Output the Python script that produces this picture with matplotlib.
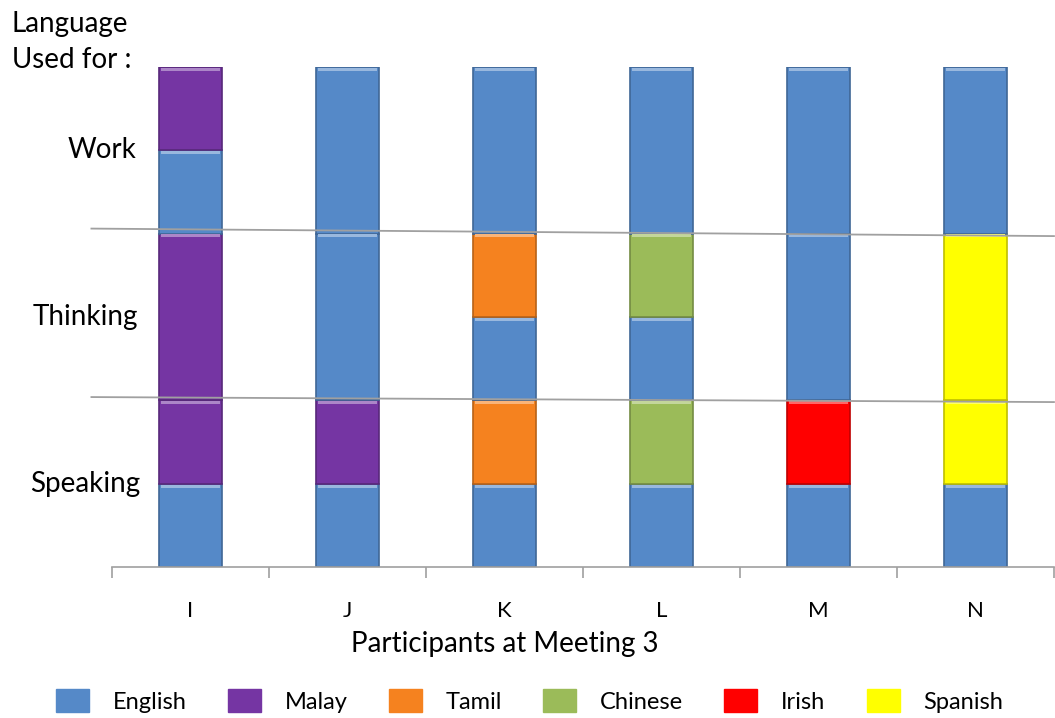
import numpy as np
import matplotlib
matplotlib.use('Agg')
import matplotlib.pyplot as plt
from matplotlib.patches import Patch
from matplotlib import colors as mcolors

plt.rcParams['font.family'] = ['Lato', 'DejaVu Sans']

participants = ['I', 'J', 'K', 'L', 'M', 'N']
languages = ['English', 'Malay', 'Tamil', 'Chinese', 'Irish', 'Spanish']
lang_colors = ['#5589C8', '#7535A3', '#F5821F', '#9BBB59', '#FF0000', '#FFFF00']
uses = ['Speaking', 'Thinking', 'Work']

# stacked segments for each participant, bottom to top: (language, height)
seg_I = [('English', 1), ('Malay', 1), ('Malay', 2), ('English', 1), ('Malay', 1)]
seg_J = [('English', 1), ('Malay', 1), ('English', 2), ('English', 2)]
seg_K = [('English', 1), ('Tamil', 1), ('English', 1), ('Tamil', 1), ('English', 2)]
seg_L = [('English', 1), ('Chinese', 1), ('English', 1), ('Chinese', 1), ('English', 2)]
seg_M = [('English', 1), ('Irish', 1), ('English', 2), ('English', 2)]
seg_N = [('English', 1), ('Spanish', 1), ('Spanish', 2), ('English', 2)]
segments = [seg_I, seg_J, seg_K, seg_L, seg_M, seg_N]

color_of = dict(zip(languages, lang_colors))

fig = plt.figure(figsize=(10.55, 7.18), dpi=100)
ax = fig.add_axes([0.106, 0.210, 0.893, 0.697])

width = 0.4
x = np.arange(len(participants))
for xi, segs in zip(x, segments):
    bottom = 0
    for lang, h in segs:
        c = color_of[lang]
        dark = tuple(v * 0.75 for v in mcolors.to_rgb(c))
        light = tuple(v + (1 - v) * 0.4 for v in mcolors.to_rgb(c))
        ax.bar(xi, h, width, bottom=bottom, color=c, edgecolor=dark, linewidth=1.2, zorder=2)
        # bevel highlight along the top of each block
        ax.bar(xi, 0.035, width * 0.94, bottom=bottom + h - 0.045, color=light, linewidth=0, zorder=3)
        bottom += h

# hand-drawn divider lines between the three uses
ax.plot([-0.63, 5.5], [4.06, 3.97], color='#a0a0a0', lw=1.3, clip_on=False, zorder=4)
ax.plot([-0.63, 5.5], [2.04, 1.98], color='#a0a0a0', lw=1.3, clip_on=False, zorder=4)

ax.set_xlim(-0.5, 5.5)
ax.set_ylim(0, 6)
for s in ['top', 'right', 'left']:
    ax.spines[s].set_visible(False)
ax.spines['bottom'].set_color('#a0a0a0')
ax.spines['bottom'].set_linewidth(1.2)

ax.set_xticks(np.arange(-0.5, 6, 1))
ax.set_xticklabels([])
ax.tick_params(axis='x', which='major', direction='out', length=8, color='#a0a0a0', width=1.2)
ax.set_xticks(x, minor=True)
ax.set_xticklabels(participants, minor=True, fontsize=16)
ax.tick_params(axis='x', which='minor', length=0, pad=24)
ax.set_yticks([])
ax.set_xlabel('Participants at Meeting 3', fontsize=20)
ax.xaxis.set_label_coords(0.417, -0.127)

for y, label, xpos in zip([1, 3, 5], uses, [-0.67, -0.67, -0.565]):
    ax.text(xpos, y, label, fontsize=20, ha='center', va='center', clip_on=False)

fig.text(0.011, 0.985, 'Language\nUsed for :', fontsize=20, ha='left', va='top', linespacing=1.5)

handles = [Patch(facecolor=c, edgecolor=c) for c in lang_colors]
fig.legend(handles, languages, loc='lower center', bbox_to_anchor=(0.502, -0.022), ncol=6,
           frameon=False, fontsize=17, handlelength=1.4, handleheight=1.1,
           handletextpad=1.0, columnspacing=1.75)

fig.savefig('out.png', dpi=100)
